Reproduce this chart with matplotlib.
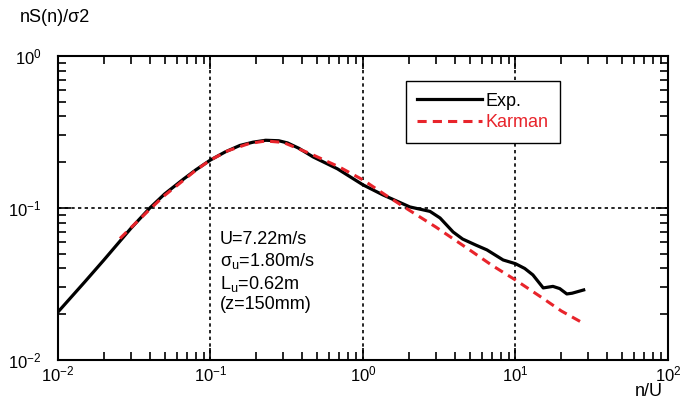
import matplotlib
matplotlib.use("Agg")
import matplotlib.pyplot as plt
from matplotlib.ticker import LogLocator, FixedLocator, FixedFormatter, NullFormatter

plt.rcParams['font.family'] = ['Liberation Sans', 'DejaVu Sans']
plt.rcParams['mathtext.default'] = 'regular'

# Exp. (measured spectrum)
exp_x = [0.01, 0.015, 0.02, 0.03, 0.04, 0.05, 0.066, 0.08, 0.1, 0.125, 0.156, 0.19,
         0.23, 0.28, 0.32, 0.38, 0.47, 0.68, 1.0, 1.35, 2.03, 2.75, 3.2, 3.9, 4.5,
         5.5, 6.5, 8.3, 10, 11.5, 13, 15.2, 17.6, 19.5, 21.7, 23.5, 26, 28]
exp_y = [0.0207, 0.0327, 0.0455, 0.0733, 0.1, 0.1236, 0.154, 0.178, 0.207, 0.234, 0.258, 0.271,
         0.279, 0.277, 0.268, 0.247, 0.217, 0.181, 0.142, 0.122, 0.1016, 0.095, 0.086, 0.0695, 0.0625,
         0.057, 0.053, 0.0455, 0.043, 0.040, 0.0363, 0.0298, 0.0305, 0.0295, 0.0272, 0.0275, 0.0283, 0.0289]

# Karman spectrum
kar_x = [0.0255, 0.03, 0.04, 0.05, 0.06, 0.08, 0.1, 0.13, 0.18, 0.23, 0.3, 0.45,
         0.7, 1.0, 1.4, 2.0, 3.0, 5.0, 7.0, 10, 15, 20, 27.7]
kar_y = [0.063, 0.074, 0.098, 0.121, 0.14, 0.177, 0.207, 0.238, 0.266, 0.276, 0.27, 0.228,
         0.186, 0.153, 0.122, 0.097, 0.075, 0.053, 0.042, 0.0336, 0.0256, 0.021, 0.0175]

xticks = [0.01, 0.1, 1, 10, 100]
xlabels = ['$10^{-2}$', '$10^{-1}$', '$10^{0}$', '$10^{1}$', '$10^{2}$']
yticks = [0.01, 0.1, 1]
ylabels = ['$10^{-2}$', '$10^{-1}$', '$10^{0}$']

fig = plt.figure(figsize=(6.83, 4.03), dpi=100)
ax = fig.add_axes([58 / 683, 43 / 403, 610 / 683, 304 / 403])

ax.plot(exp_x, exp_y, color='black', lw=2.3, label='Exp.', zorder=3)
ax.plot(kar_x, kar_y, color='#e8242b', lw=2.2, ls=(0, (3, 2)), label='Karman', zorder=4)

ax.set_xscale('log')
ax.set_yscale('log')
ax.set_xlim(0.01, 100)
ax.set_ylim(0.01, 1)

ax.xaxis.set_major_locator(FixedLocator(xticks))
ax.xaxis.set_major_formatter(FixedFormatter(xlabels))
ax.yaxis.set_major_locator(FixedLocator(yticks))
ax.yaxis.set_major_formatter(FixedFormatter(ylabels))
ax.xaxis.set_minor_locator(LogLocator(base=10, subs=range(2, 10)))
ax.yaxis.set_minor_locator(LogLocator(base=10, subs=range(2, 10)))
ax.xaxis.set_minor_formatter(NullFormatter())
ax.yaxis.set_minor_formatter(NullFormatter())

ax.tick_params(which='both', direction='in', top=True, right=True, width=1.2)
ax.tick_params(which='major', length=9, labelsize=12)
ax.tick_params(which='minor', length=6)
ax.tick_params(axis='x', pad=3)
ax.tick_params(axis='y', pad=12)
for s in ax.spines.values():
    s.set_linewidth(1.5)

# dashed grid at decades
for v in [0.1, 1, 10]:
    ax.axvline(v, color='black', lw=1.2, ls=(0, (2, 2)), zorder=1)
ax.axhline(0.1, color='black', lw=1.2, ls=(0, (2, 2)), zorder=1)

leg = ax.legend(loc='upper left', bbox_to_anchor=(0.570, 0.918), borderaxespad=0,
                fontsize=13, handlelength=3.6, handletextpad=0.15, labelspacing=0.25,
                borderpad=0.65, fancybox=False, framealpha=1, edgecolor='black')
leg.get_frame().set_linewidth(1.0)
leg.get_texts()[1].set_color('#e8242b')

ax.text(0.265, 0.425, 'U=7.22m/s\n$\\sigma_u$=1.80m/s\n$L_u$=0.62m\n(z=150mm)',
        transform=ax.transAxes, fontsize=13, va='top', ha='left', linespacing=1.2)

fig.text(20 / 683, 1 - 17 / 403, 'nS(n)/σ2', fontsize=13, va='center', ha='left')
fig.text(635 / 683, 1 - 392 / 403, 'n/U', fontsize=13, va='center', ha='left')

fig.savefig('out.png', dpi=100)
